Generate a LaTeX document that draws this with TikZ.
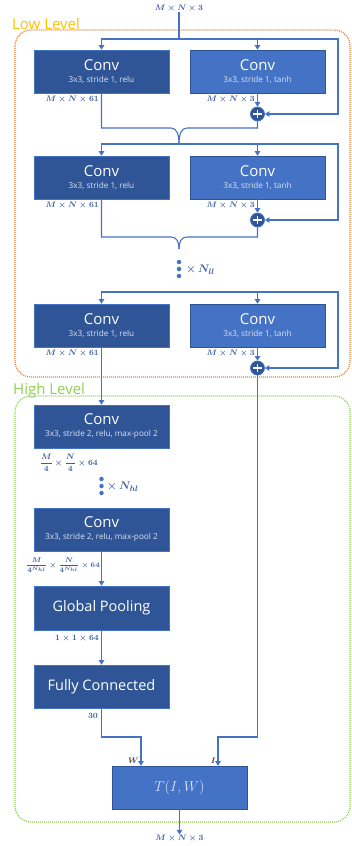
\documentclass[tikz,border=0pt]{standalone}
\usepackage{fontspec}
\usepackage{amsmath}
\newfontfamily\osans{Open Sans}
\usetikzlibrary{arrows.meta}
\definecolor{dkb}{HTML}{2F5597}
\definecolor{ltb}{HTML}{4472C4}
\definecolor{lnb}{HTML}{4472C4}
\definecolor{subc}{HTML}{D9E2F3}
\definecolor{gold}{HTML}{FFC000}
\definecolor{orgb}{HTML}{ED7D31}
\definecolor{grn}{HTML}{92D050}
\definecolor{labc}{HTML}{3A5DA0}
\newcommand\convtxt[2]{{\fontsize{15}{15}\selectfont #1}\\[0pt]{\fontsize{8.2}{9}\selectfont\color{subc}#2}}
\begin{document}
\begin{tikzpicture}[x=1pt,y=-1pt,
  line/.style={draw=lnb, line width=1.1pt},
  arr/.style={line, -{Triangle[length=4.5pt,width=5.5pt]}},
  dkbox/.style={fill=dkb, draw=lnb, line width=0.6pt, minimum width=135pt, minimum height=43pt, inner sep=0pt, align=center, text=white, font=\osans},
  ltbox/.style={dkbox, fill=ltb, draw=dkb},
  dimlab/.style={text=labc, font=\fontsize{8.5}{9}\selectfont\boldmath, inner sep=0pt},
  replab/.style={text=labc, font=\fontsize{11}{12}\selectfont\boldmath, inner sep=0pt, anchor=west},
  plusnode/.style={circle, fill=dkb, draw=lnb, line width=0.8pt, minimum size=14pt, inner sep=0pt,
    path picture={\draw[white, line width=1.8pt]
      ([xshift=-4.3pt]path picture bounding box.center) -- ([xshift=4.3pt]path picture bounding box.center)
      ([yshift=-4.3pt]path picture bounding box.center) -- ([yshift=4.3pt]path picture bounding box.center);}},
  dotn/.style={circle, fill=lnb, minimum size=4.5pt, inner sep=0pt},
  grouplab/.style={anchor=base west, font=\osans\fontsize{15}{15}\selectfont, inner sep=0pt},
  brace/.style={line}
]
\useasboundingbox (0,0) rectangle (351,846);

% group frames
\draw[orgb, line width=1.2pt, dash pattern=on 1pt off 1pt, rounded corners=16pt] (15,30) rectangle (350,377);
\node[grouplab, text=gold] (lowlab) at (12,29) {Low Level};
\draw[grn, line width=1.2pt, dash pattern=on 1pt off 1pt, rounded corners=16pt] (15,396) rectangle (350,822);
\node[grouplab, text=grn] (highlab) at (13,394) {High Level};

% input
\node[dimlab] (inlab) at (179,8) {$M\times N\times 3$};
\coordinate (j0) at (179,39);
\coordinate (r0) at (338,39);

% block 1
\node[dkbox] (c1) at (101.5,71.5) {\convtxt{Conv}{3x3, stride 1, relu}};
\node[ltbox] (t1) at (257.5,71.5) {\convtxt{Conv}{3x3, stride 1, tanh}};
\node[plusnode] (p1) at (257.5,114) {};
\node[dimlab, anchor=east] (l1a) at (99,99) {$M\times N\times 61$};
\node[dimlab, anchor=east] (l1b) at (255,99) {$M\times N\times 3$};
\draw[line] (inlab) -- (j0);
\draw[arr] (j0) -| (c1.north);
\draw[arr] (j0) -| (t1.north);
\draw[arr] (j0) -- (r0) |- (p1.east);
\draw[arr] (t1.south) -- (p1.north);
\coordinate (b1l) at (171,128);
\coordinate (b1r) at (187,128);
\coordinate (j1) at (179,144);
\coordinate (r1) at (338,144);
\draw[brace] (c1.south) |- (b1l) .. controls +(6,0) and +(0,-9) .. (j1);
\draw[brace] (p1.south) |- (b1r) .. controls +(-6,0) and +(0,-9) .. (j1);

% block 2
\node[dkbox] (c2) at (101.5,177.5) {\convtxt{Conv}{3x3, stride 1, relu}};
\node[ltbox] (t2) at (257.5,177.5) {\convtxt{Conv}{3x3, stride 1, tanh}};
\node[plusnode] (p2) at (257.5,220) {};
\node[dimlab, anchor=east] (l2a) at (99,205) {$M\times N\times 61$};
\node[dimlab, anchor=east] (l2b) at (255,205) {$M\times N\times 3$};
\draw[arr] (j1) -| (c2.north);
\draw[arr] (j1) -| (t2.north);
\draw[arr] (j1) -- (r1) |- (p2.east);
\draw[arr] (t2.south) -- (p2.north);
\coordinate (b2l) at (171,237);
\coordinate (b2r) at (187,237);
\coordinate (j2t) at (179,249);
\draw[brace] (c2.south) |- (b2l) .. controls +(6,0) and +(0,-7) .. (j2t);
\draw[brace] (p2.south) |- (b2r) .. controls +(-6,0) and +(0,-7) .. (j2t);

% repetition dots
\node[dotn] (d1) at (179,262) {};
\node[dotn] (d2) at (179,269) {};
\node[dotn] (d3) at (179,276) {};
\node[replab] (nll) at (186,270) {$\times\, N_{ll}$};

% block 3
\coordinate (j2) at (179,292);
\coordinate (r2) at (338,292);
\node[dkbox] (c3) at (101.5,325.5) {\convtxt{Conv}{3x3, stride 1, relu}};
\node[ltbox] (t3) at (257.5,325.5) {\convtxt{Conv}{3x3, stride 1, tanh}};
\node[plusnode] (p3) at (257.5,368) {};
\node[dimlab, anchor=east] (l3a) at (99,353) {$M\times N\times 61$};
\node[dimlab, anchor=east] (l3b) at (255,353) {$M\times N\times 3$};
\draw[arr] (j2) -| (c3.north);
\draw[arr] (j2) -| (t3.north);
\draw[arr] (j2) -- (r2) |- (p3.east);
\draw[arr] (t3.south) -- (p3.north);

% high level
\node[dkbox] (h1) at (101.5,426.5) {\convtxt{Conv}{3x3, stride 2, relu, max-pool 2}};
\draw[arr] (c3.south) -- (h1.north);
\node[dimlab, anchor=east, font=\fontsize{8}{8}\selectfont\boldmath] (lh1) at (98,463) {$\dfrac{M}{4}\times\dfrac{N}{4}\times 64$};
\node[dotn] (e1) at (101.5,479) {};
\node[dotn] (e2) at (101.5,486) {};
\node[dotn] (e3) at (101.5,493) {};
\node[replab] (nhl) at (107,487) {$\times\, N_{hl}$};
\node[dkbox] (h2) at (101.5,529.5) {\convtxt{Conv}{3x3, stride 2, relu, max-pool 2}};
\node[dimlab, anchor=east, font=\fontsize{7.2}{8}\selectfont\boldmath] (lh2) at (100,565) {$\dfrac{M}{4^{N_{hl}}}\times\dfrac{N}{4^{N_{hl}}}\times 64$};
\node[dkbox, font=\osans\fontsize{14.5}{14.5}\selectfont, minimum height=44pt] (gp) at (101.5,608) {Global Pooling};
\draw[arr] (h2.south) -- (gp.north);
\node[dimlab, anchor=east] (lgp) at (99,638) {$1\times 1\times 64$};
\node[dkbox, font=\osans\fontsize{14.5}{14.5}\selectfont] (fc) at (101.5,686.5) {Fully Connected};
\draw[arr] (gp.south) -- (fc.north);
\node[dimlab, anchor=east] (lfc) at (98,716) {$30$};

% T(I,W)
\node[ltbox, draw=dkb, font=\fontsize{14.5}{14.5}\selectfont] (T) at (179.5,787.5) {\color{subc}$T(I,W)$};
\coordinate (wW) at (141,737);
\coordinate (wL) at (101.5,737);
\coordinate (iI) at (218,737);
\coordinate (iR) at (257.5,737);
\draw[arr] (fc.south) -- (wL) -- (wW) -- (wW |- T.north);
\draw[arr] (p3.south) -- (iR) -- (iI) -- (iI |- T.north);
\node[dimlab, anchor=east, text=black!75] (wlab) at (139,761) {$W$};
\node[dimlab, anchor=east, text=black!75] (ilab) at (216,761) {$I$};
\node[dimlab] (outlab) at (179.5,838) {$M\times N\times 3$};
\draw[arr] (T.south) -- (outlab.north);
\end{tikzpicture}
\end{document}
